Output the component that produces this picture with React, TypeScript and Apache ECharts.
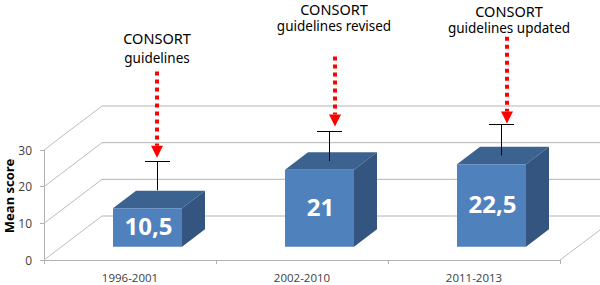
import React, { useEffect, useRef } from "react";
import * as echarts from "echarts";

const categories = ["1996-2001", "2002-2010", "2011-2013"];
const means = [10.5, 21, 22.5];
const meanLabels = ["10,5", "21", "22,5"];
const errorStart = [13, 21, 22.5];
const errorTop = [21.1, 29.1, 31.2];
const arrowTop = [51.4, 55.5, 60.9];
const arrowTip = [27.9, 36.4, 37.2];
const arrowShift = [27, 33, 33];
const noteLine1 = ["CONSORT", "CONSORT", "CONSORT"];
const noteLine2 = ["guidelines", "guidelines revised", "guidelines updated"];
const noteShift = [27, 32, 35];
const noteLine1Value = [60.5, 68.4, 68.0];
const noteLine2Value = [55.2, 63.7, 63.3];
const yTicks = [0, 10, 20, 30];

const FONT = '"Noto Sans"';
const WALL_DX = 58;
const WALL_DY = 44;
const BAR_DX = 17.5;
const BAR_DY = 13.3;
const BAR_W = 69;
const DEPTH_X = 23;
const DEPTH_Y = 17.5;

export default function App() {
  const ref = useRef<HTMLDivElement>(null);
  useEffect(() => {
    document.body.style.margin = "0";
    const chart = echarts.init(ref.current!, null, { renderer: "svg" });
    chart.setOption({
      animation: false,
      backgroundColor: "#fff",
      textStyle: { fontFamily: FONT },
      grid: { left: 44, right: 40, top: 150, bottom: 25, containLabel: false, outerBoundsMode: "none" },
      xAxis: {
        type: "category",
        data: categories,
        axisLine: { lineStyle: { color: "#b0b0b0", width: 1 } },
        axisTick: { show: true, length: 4, lineStyle: { color: "#b0b0b0" } },
        axisLabel: { color: "#404040", fontSize: 11.5, margin: 11, fontFamily: "Open Sans" },
      },
      yAxis: {
        type: "value",
        min: 0,
        max: 30,
        interval: 10,
        name: "Mean score",
        nameLocation: "middle",
        nameGap: 29,
        nameMoveOverlap: false,
        nameRotate: 90,
        nameTextStyle: { color: "#000", fontSize: 13, fontWeight: "bold", fontFamily: FONT, padding: [0, 0, 0, 18] },
        axisLine: { show: true, lineStyle: { color: "#b0b0b0" } },
        axisTick: { show: true, length: 4, lineStyle: { color: "#b0b0b0" } },
        axisLabel: { color: "#404040", fontSize: 12, margin: 12, fontFamily: "Open Sans" },
        splitLine: { show: false },
      },
      series: [
        {
          type: "custom",
          name: "walls",
          coordinateSystem: "cartesian2d",
          clip: false,
          silent: true,
          z: 1,
          data: yTicks.map((v) => [0, v]),
          renderItem: (params: any, api: any) => {
            const cs = params.coordSys;
            const y = api.coord([0, api.value(1)])[1];
            const x0 = cs.x;
            const line = { stroke: "#b4b4b4", lineWidth: 1 };
            const children: any[] = [
              { type: "line", shape: { x1: x0, y1: y, x2: x0 + WALL_DX, y2: y - WALL_DY }, style: { stroke: "#bcbcbc", lineWidth: 1 } },
              { type: "line", shape: { x1: x0 + WALL_DX, y1: y - WALL_DY, x2: api.getWidth(), y2: y - WALL_DY }, style: line },
            ];
            if (api.value(1) === 0) {
              const xr = cs.x + cs.width;
              children.push({ type: "line", shape: { x1: xr, y1: y, x2: xr + 40, y2: y - 30 }, style: { stroke: "#bcbcbc", lineWidth: 1 } });
            }
            return { type: "group", children };
          },
        },
        {
          type: "custom",
          name: "Mean score",
          coordinateSystem: "cartesian2d",
          clip: false,
          z: 2,
          data: means.map((v, i) => [i, v]),
          renderItem: (_p: any, api: any) => {
            const i = api.value(0);
            const [cx, y0] = api.coord([i, 0]);
            const top = api.coord([i, api.value(1)])[1] - BAR_DY;
            const bottom = y0 - BAR_DY;
            const l = cx + BAR_DX - BAR_W / 2;
            const r = l + BAR_W;
            return {
              type: "group",
              children: [
                {
                  type: "polygon",
                  shape: { points: [[l, top], [l + DEPTH_X, top - DEPTH_Y], [r + DEPTH_X, top - DEPTH_Y], [r, top]] },
                  style: { fill: "#3c6290" },
                },
                {
                  type: "polygon",
                  shape: { points: [[r, top], [r + DEPTH_X, top - DEPTH_Y], [r + DEPTH_X, bottom - DEPTH_Y], [r, bottom]] },
                  style: { fill: "#34557f" },
                },
                { type: "rect", shape: { x: l, y: top, width: BAR_W, height: bottom - top }, style: { fill: "#4f81bd" } },
                {
                  type: "text",
                  x: l + BAR_W / 2 + 1,
                  y: (top + bottom) / 2 - 2,
                  style: {
                    text: meanLabels[i],
                    fill: "#fff",
                    font: `bold 24px ${FONT}`,
                    align: "center",
                    verticalAlign: "middle",
                  },
                },
              ],
            };
          },
        },
        {
          type: "custom",
          name: "error",
          coordinateSystem: "cartesian2d",
          clip: false,
          z: 3,
          data: errorTop.map((v, i) => [i, errorStart[i], v]),
          renderItem: (_p: any, api: any) => {
            const i = api.value(0);
            const [cx, y0] = api.coord([i, 0]);
            const x = Math.round(cx + BAR_DX + DEPTH_X / 2 - 2) + 0.5;
            const yA = api.coord([i, api.value(1)])[1] - BAR_DY - DEPTH_Y / 2;
            const yB = Math.round(api.coord([i, api.value(2)])[1] - BAR_DY - DEPTH_Y / 2) + 0.5;
            const s = { stroke: "#000", lineWidth: 1 };
            return {
              type: "group",
              children: [
                { type: "line", shape: { x1: x, y1: yA, x2: x, y2: yB }, style: s },
                { type: "line", shape: { x1: x - 12.5, y1: yB, x2: x + 12.5, y2: yB }, style: s },
              ],
            };
          },
        },
        {
          type: "custom",
          name: "notes",
          coordinateSystem: "cartesian2d",
          clip: false,
          z: 4,
          data: arrowTip.map((v, i) => [i, arrowTop[i], v]),
          renderItem: (_p: any, api: any) => {
            const i = api.value(0);
            const cx = api.coord([i, 0])[0];
            const x = cx + arrowShift[i];
            const yTop = api.coord([i, api.value(1)])[1];
            const yTip = api.coord([i, api.value(2)])[1];
            const tx = cx + noteShift[i];
            const noteStyle = { fill: "#000", align: "center", verticalAlign: "middle" };
            return {
              type: "group",
              children: [
                {
                  type: "line",
                  shape: { x1: x, y1: yTop, x2: x, y2: yTip - 12 },
                  style: { stroke: "#ff0000", lineWidth: 4, lineDash: [4, 4] },
                },
                {
                  type: "polygon",
                  shape: { points: [[x - 6, yTip - 12], [x + 6, yTip - 12], [x, yTip]] },
                  style: { fill: "#ff0000" },
                },
                { type: "text", x: tx, y: api.coord([i, noteLine1Value[i]])[1], style: { ...noteStyle, text: noteLine1[i], font: `14.5px ${FONT}` } },
                { type: "text", x: tx, y: api.coord([i, noteLine2Value[i]])[1], style: { ...noteStyle, text: noteLine2[i], font: `13.5px ${FONT}` } },
              ],
            };
          },
        },
      ],
    });
    return () => chart.dispose();
  }, []);
  return <div ref={ref} style={{ width: 600, height: 285 }} />;
}
